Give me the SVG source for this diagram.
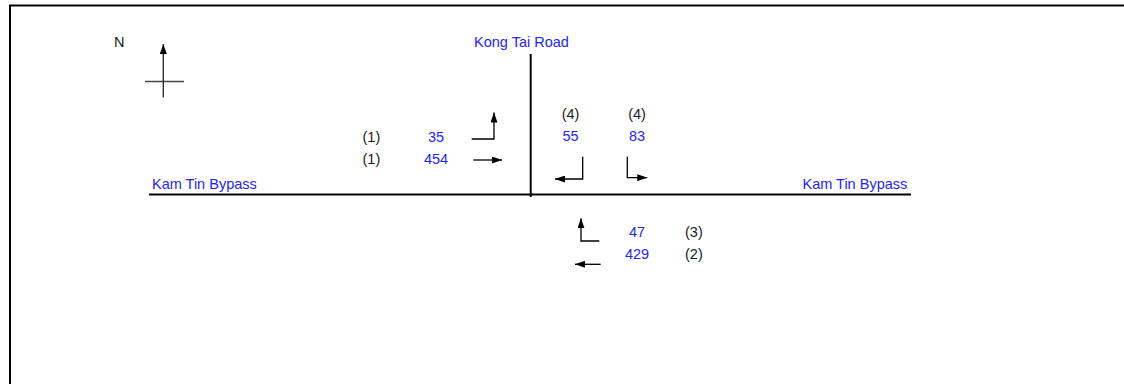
<svg xmlns="http://www.w3.org/2000/svg" width="1124" height="384" viewBox="0 0 1124 384">
  <style>
    .lbl { font-family: "Liberation Sans", Arial, sans-serif; font-size: 14.5px; fill: #1a1a1a; }
    .blue { fill: #2424f5; }
    .mid { text-anchor: middle; }
    .road { stroke: #000; stroke-width: 2; fill: none; }
    .mv { stroke: #000; stroke-width: 1.3; fill: none; marker-end: url(#head); }
  </style>
  <defs>
    <marker id="head" viewBox="0 0 10 7" refX="10" refY="3.5" markerWidth="10" markerHeight="7" markerUnits="userSpaceOnUse" orient="auto">
      <path d="M0,0 L10,3.5 L0,7 Z" fill="#000"/>
    </marker>
  </defs>
  <rect width="1124" height="384" fill="#fff"/>

  <!-- frame (top and left edges) -->
  <path d="M10,384 V5.5 H1124" stroke="#000" stroke-width="2" fill="none"/>

  <!-- north point -->
  <g id="north">
    <text class="lbl" x="114" y="47">N</text>
    <line x1="145" y1="81.5" x2="184" y2="81.5" stroke="#444" stroke-width="1.3"/>
    <line x1="163.3" y1="97.5" x2="163.3" y2="44" stroke="#222" stroke-width="1.3" marker-end="url(#head)"/>
  </g>

  <!-- roads -->
  <g id="roads">
    <line class="road" x1="149" y1="194.5" x2="911" y2="194.5"/>
    <line class="road" x1="530.7" y1="54" x2="530.7" y2="197"/>
    <text class="lbl blue" x="474" y="47">Kong Tai Road</text>
    <text class="lbl blue" x="152" y="188.5">Kam Tin Bypass</text>
    <text class="lbl blue" x="802.5" y="188.5">Kam Tin Bypass</text>
  </g>

  <!-- west approach -->
  <g id="west-approach">
    <text class="lbl" x="362.5" y="141.5">(1)</text>
    <text class="lbl blue mid" x="436" y="141.5">35</text>
    <text class="lbl" x="362.5" y="164">(1)</text>
    <text class="lbl blue mid" x="436" y="164">454</text>
  </g>

  <!-- north approach -->
  <g id="north-approach">
    <text class="lbl mid" x="570.5" y="119">(4)</text>
    <text class="lbl mid" x="637" y="119">(4)</text>
    <text class="lbl blue mid" x="570.5" y="141">55</text>
    <text class="lbl blue mid" x="637" y="141">83</text>
  </g>

  <!-- east approach -->
  <g id="east-approach">
    <text class="lbl blue mid" x="637" y="236.5">47</text>
    <text class="lbl" x="685" y="236.5">(3)</text>
    <text class="lbl blue mid" x="637" y="259">429</text>
    <text class="lbl" x="685" y="259">(2)</text>
  </g>

  <!-- turning movements -->
  <g id="movements">
    <path class="mv" d="M471.7,139 H494 V112.5"/>
    <path class="mv" d="M473.3,160 H502"/>
    <path class="mv" d="M582.7,156.7 V179 H555"/>
    <path class="mv" d="M627.3,156.7 V177.7 H647.3"/>
    <path class="mv" d="M599.3,241 H581 V218.3"/>
    <path class="mv" d="M600.7,264.3 H575"/>
  </g>
</svg>
